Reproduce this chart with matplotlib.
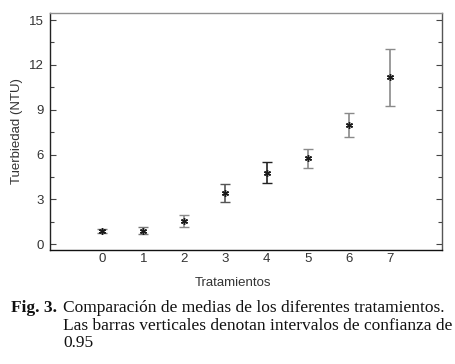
import matplotlib
matplotlib.use('Agg')
import matplotlib.pyplot as plt
from matplotlib.ticker import MultipleLocator
import numpy as np

tratamientos = [0, 1, 2, 3, 4, 5, 6, 7]
medias = [0.9, 0.9, 1.55, 3.45, 4.8, 5.75, 7.98, 11.17]
lim_inf = [0.78, 0.68, 1.15, 2.85, 4.08, 5.12, 7.15, 9.28]
lim_sup = [1.02, 1.15, 1.97, 4.05, 5.52, 6.35, 8.75, 13.03]
colores_barra = ['#777777', '#777777', '#8a8a8a', '#555555', '#222222', '#8a8a8a', '#8a8a8a', '#8a8a8a']

plt.rcParams['font.family'] = ['Liberation Sans', 'DejaVu Sans']

fig = plt.figure(figsize=(4.56, 3.64), dpi=100)
ax = fig.add_axes([0.1096, 0.3132, 0.8597, 0.6511])

for x, m, lo, hi, c in zip(tratamientos, medias, lim_inf, lim_sup, colores_barra):
    ax.errorbar([x], [m], yerr=[[m - lo], [hi - m]], fmt='none', ecolor=c,
                elinewidth=1.2, capsize=3.6, capthick=1.0)
ax.plot(tratamientos, medias, linestyle='none', marker=(6, 2, 0), markersize=5,
        markeredgewidth=1.0, color='#1a1a1a')

ax.set_xlim(-1.27, 8.27)
ax.set_ylim(-0.38, 15.47)
ax.set_xticks(tratamientos)
ax.yaxis.set_major_locator(MultipleLocator(3))
ax.yaxis.set_minor_locator(MultipleLocator(1.5))
ax.tick_params(axis='x', length=0, pad=2.0, labelsize=9.5, colors='#333333')
ax.tick_params(axis='y', which='major', direction='in', left=True, right=True,
               length=4.5, width=0.8, pad=4.3, labelsize=9.5, labelcolor='#333333', color='#444444')
ax.tick_params(axis='y', which='minor', direction='in', left=True, right=True,
               length=3, width=0.8, color='#444444')

ax.spines['top'].set_color('#8f8f8f')
ax.spines['right'].set_color('#555555')
ax.spines['left'].set_color('#222222')
ax.spines['bottom'].set_color('#111111')
for s in ax.spines.values():
    s.set_linewidth(1.0)

fig.text(17 / 456, 1 - 131 / 364, 'Tuerbiedad (NTU)', fontsize=9.5, color='#333333',
         rotation=90, ha='center', va='center')
fig.text(233 / 456, 1 - 283 / 364, 'Tratamientos', fontsize=9.5, color='#333333',
         ha='center', va='center')

serif = ['Liberation Serif', 'DejaVu Serif']
tam = 12.5
fig.text(11 / 456, 1 - 312 / 364, 'Fig. 3.', family=serif, fontsize=tam,
         fontweight='bold', color='#111111', va='baseline')
fig.text(63 / 456, 1 - 312 / 364, 'Comparación de medias de los diferentes tratamientos.',
         family=serif, fontsize=tam, color='#111111', va='baseline')
fig.text(63 / 456, 1 - 330 / 364, 'Las barras verticales denotan intervalos de confianza de',
         family=serif, fontsize=tam, color='#111111', va='baseline')
fig.text(63 / 456, 1 - 347 / 364, '0.95', family=serif, fontsize=tam,
         color='#111111', va='baseline')

fig.savefig('out.png', dpi=100)
